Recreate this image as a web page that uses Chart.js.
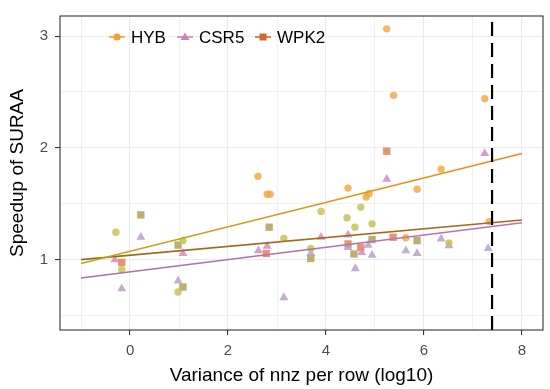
<!DOCTYPE html>
<html lang="en">
<head>
  <meta charset="UTF-8" />
  <title>Speedup of SURAA</title>
  <script src="https://cdn.jsdelivr.net/npm/chart.js"></script>
  <style>
    html, body {
      margin: 0;
      padding: 0;
      background: #fff;
    }
    #wrap {
      width: 550px;
      height: 389px;
    }
  </style>
</head>
<body>
  <div id="wrap"><canvas id="speedupChart" width="550" height="389"></canvas></div>

  <script>
    // values
    const hybX = [-0.29, -0.17, 0.98, 1.08, 2.61, 2.80, 2.86, 3.14, 3.69, 3.90, 4.43, 4.45, 4.59, 4.71, 4.82, 4.88, 4.94, 5.24, 5.38, 5.63, 5.86, 6.35, 6.51, 7.24, 7.33];
    const hybY = [1.245, 0.91, 0.71, 1.17, 1.745, 1.585, 1.585, 1.19, 1.10, 1.43, 1.375, 1.64, 1.29, 1.47, 1.56, 1.59, 1.32, 3.065, 2.47, 1.195, 1.63, 1.81, 1.15, 2.44, 1.34];
    const hybTone = ['g','g','g','g','o','o','o','g','g','g','g','o','g','g','o','o','g','o','o','o','o','o','g','o','o'];

    const csrX = [-0.31, -0.17, 0.22, 0.98, 1.08, 2.62, 2.80, 3.14, 3.69, 3.90, 4.45, 4.45, 4.60, 4.73, 4.86, 4.94, 5.24, 5.63, 5.86, 6.35, 6.51, 7.24, 7.31];
    const csrY = [1.00, 0.74, 1.20, 0.81, 1.055, 1.08, 1.12, 0.66, 1.055, 1.20, 1.22, 1.11, 0.92, 1.065, 1.13, 1.04, 1.72, 1.08, 1.055, 1.185, 1.125, 1.95, 1.10];
    const csrTone = ['p','l','l','l','p','p','p','l','l','p','p','l','l','p','l','l','p','l','l','l','l','p','l'];

    const wpkX = [-0.17, 0.22, 0.98, 1.08, 2.78, 2.84, 3.69, 4.45, 4.57, 4.71, 4.94, 5.24, 5.37, 5.86];
    const wpkY = [0.975, 1.40, 1.13, 0.755, 1.055, 1.29, 1.01, 1.14, 1.05, 1.11, 1.18, 1.97, 1.20, 1.17];
    const wpkTone = ['r','b','b','b','r','b','b','r','b','r','b','r','r','b'];

    // fitted lines, end points at x = -1 and x = 8
    const fitX = [-1, 8];
    const hybFit = [0.965, 1.95];
    const csrFit = [0.835, 1.33];
    const wpkFit = [1.0, 1.355];

    const cutoffX = 7.39;
    const xRange = [-1.43, 8.43];
    const yRange = [0.37, 3.18];
    const xLabels = [0, 2, 4, 6, 8];
    const yLabels = [1, 2, 3];

    const seriesNames = ['HYB', 'CSR5', 'WPK2'];

    const FONT = "'Liberation Sans', Arial, sans-serif";

    const toneColors = {
      o: 'rgba(240, 168, 70, 0.82)',
      g: 'rgba(196, 192, 80, 0.82)',
      p: 'rgba(212, 136, 190, 0.82)',
      l: 'rgba(180, 158, 196, 0.82)',
      r: 'rgba(226, 126, 80, 0.82)',
      b: 'rgba(176, 156, 86, 0.82)'
    };

    function pts(xs, ys) {
      return xs.map((x, i) => ({ x: x, y: ys[i] }));
    }

    function gradientLine(c1, c2) {
      return (ctx) => {
        const area = ctx.chart.chartArea;
        if (!area) return c1;
        const g = ctx.chart.ctx.createLinearGradient(area.left, 0, area.right, 0);
        g.addColorStop(0, c1);
        g.addColorStop(1, c2);
        return g;
      };
    }

    const legendPlugin = {
      id: 'ggLegend',
      afterDraw(chart) {
        const c = chart.ctx;
        const items = [
          { label: seriesNames[0], x: 117, color: '#F0A030', shape: 'circle' },
          { label: seriesNames[1], x: 185, color: '#D080B8', shape: 'triangle' },
          { label: seriesNames[2], x: 263, color: '#DC6430', shape: 'square' }
        ];
        const y = 37;
        c.save();
        items.forEach(it => {
          c.strokeStyle = it.color;
          c.lineWidth = 1.6;
          c.beginPath();
          c.moveTo(it.x - 8, y);
          c.lineTo(it.x + 8, y);
          c.stroke();
          c.fillStyle = it.color;
          c.beginPath();
          if (it.shape === 'circle') {
            c.arc(it.x, y, 3.6, 0, Math.PI * 2);
          } else if (it.shape === 'triangle') {
            c.moveTo(it.x, y - 4.5);
            c.lineTo(it.x + 4.4, y + 3);
            c.lineTo(it.x - 4.4, y + 3);
            c.closePath();
          } else {
            c.rect(it.x - 3.5, y - 3.5, 7, 7);
          }
          c.fill();
          c.fillStyle = '#000';
          c.font = '17px ' + FONT;
          c.textBaseline = 'middle';
          c.textAlign = 'left';
          c.fillText(it.label, it.x + 14, y + 1);
        });
        // panel border
        const a = chart.chartArea;
        c.strokeStyle = '#333333';
        c.lineWidth = 1.1;
        c.strokeRect(a.left, a.top, a.right - a.left, a.bottom - a.top);
        c.restore();
      }
    };

    const ctx = document.getElementById('speedupChart').getContext('2d');

    const chart = new Chart(ctx, {
      type: 'scatter',
      data: {
        datasets: [
          {
            label: 'cutoff',
            data: [{ x: cutoffX, y: yRange[0] }, { x: cutoffX, y: yRange[1] }],
            showLine: true,
            borderColor: '#000',
            borderWidth: 2.2,
            borderDash: [14, 7],
            pointRadius: 0
          },
          {
            label: 'HYB fit',
            data: pts(fitX, hybFit),
            showLine: true,
            borderColor: gradientLine('#BCA81A', '#F28A14'),
            borderWidth: 1.6,
            pointRadius: 0
          },
          {
            label: 'CSR5 fit',
            data: pts(fitX, csrFit),
            showLine: true,
            borderColor: gradientLine('#9C78A6', '#C46EB0'),
            borderWidth: 1.6,
            pointRadius: 0
          },
          {
            label: 'WPK2 fit',
            data: pts(fitX, wpkFit),
            showLine: true,
            borderColor: gradientLine('#9A6A1E', '#A8681C'),
            borderWidth: 1.6,
            pointRadius: 0
          },
          {
            label: seriesNames[0],
            data: pts(hybX, hybY),
            pointStyle: 'circle',
            pointRadius: 3.7,
            borderWidth: 0,
            backgroundColor: hybTone.map(t => toneColors[t])
          },
          {
            label: seriesNames[1],
            data: pts(csrX, csrY),
            pointStyle: 'triangle',
            pointRadius: 5.2,
            borderWidth: 0,
            backgroundColor: csrTone.map(t => toneColors[t])
          },
          {
            label: seriesNames[2],
            data: pts(wpkX, wpkY),
            pointStyle: 'rect',
            pointRadius: 5.2,
            borderWidth: 0,
            backgroundColor: wpkTone.map(t => toneColors[t])
          }
        ]
      },
      options: {
        responsive: false,
        animation: false,
        events: [],
        layout: {
          padding: { left: 0, right: 7, top: 5, bottom: 0 }
        },
        plugins: {
          legend: { display: false },
          tooltip: { enabled: false }
        },
        scales: {
          x: {
            type: 'linear',
            min: xRange[0],
            max: xRange[1],
            afterFit: (scale) => { scale.height = 59; },
            ticks: {
              stepSize: 1,
              includeBounds: false,
              autoSkip: false,
              maxRotation: 0,
              padding: 7,
              color: '#4D4D4D',
              font: { family: FONT, size: 15 },
              callback: (v) => xLabels.includes(v) ? String(v) : ''
            },
            grid: {
              color: (c) => '#EBEBEB',
              lineWidth: (c) => xLabels.includes(c.tick.value) ? 1.1 : 0.7,
              tickColor: (c) => xLabels.includes(c.tick.value) ? '#333333' : 'rgba(0,0,0,0)',
              tickLength: 5,
              tickWidth: 1.1
            },
            border: { display: false },
            title: {
              display: true,
              text: 'Variance of nnz per row (log10)',
              color: '#000',
              font: { family: FONT, size: 19 },
              padding: { top: 0, bottom: 2 }
            }
          },
          y: {
            type: 'linear',
            min: yRange[0],
            max: yRange[1],
            afterFit: (scale) => { scale.width = 60; },
            ticks: {
              stepSize: 0.5,
              includeBounds: false,
              autoSkip: false,
              padding: 7,
              color: '#4D4D4D',
              font: { family: FONT, size: 15 },
              callback: (v) => yLabels.includes(v) ? String(v) : ''
            },
            grid: {
              color: (c) => '#EBEBEB',
              lineWidth: (c) => yLabels.includes(c.tick.value) ? 1.1 : 0.7,
              tickColor: (c) => yLabels.includes(c.tick.value) ? '#333333' : 'rgba(0,0,0,0)',
              tickLength: 5,
              tickWidth: 1.1
            },
            border: { display: false },
            title: {
              display: true,
              text: 'Speedup of SURAA',
              color: '#000',
              font: { family: FONT, size: 19 },
              padding: { top: 6, bottom: 0 }
            }
          }
        }
      },
      plugins: [legendPlugin]
    });
  </script>
</body>
</html>
